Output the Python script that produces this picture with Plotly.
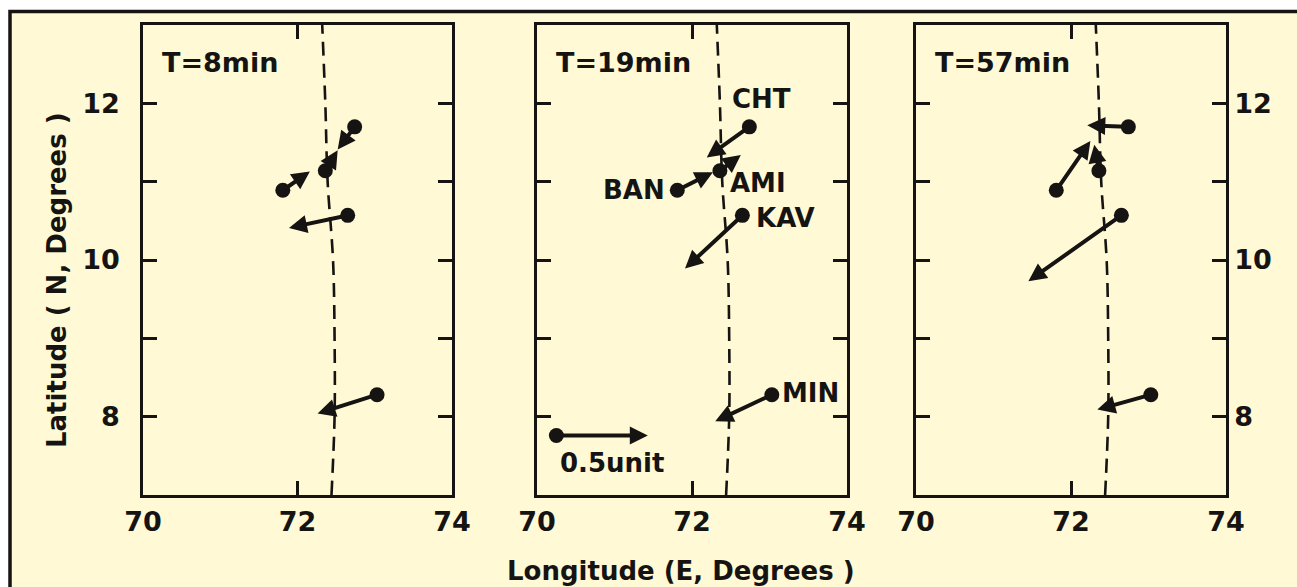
import plotly.graph_objects as go

# Station locations (longitude E, latitude N)
stations = ["CHT", "AMI", "BAN", "KAV", "MIN"]
station_lon = [72.74, 72.36, 71.81, 72.65, 73.03]
station_lat = [11.70, 11.14, 10.89, 10.57, 8.28]

# Arrow heads (end points of the induction vectors) for each time step
panel_titles = ["T=8min", "T=19min", "T=57min"]
tip_lon = [
    [72.52, 72.52, 72.16, 71.89, 72.26],
    [72.19, 72.63, 72.27, 71.91, 72.30],
    [72.21, 72.30, 72.25, 71.45, 72.34],
]
tip_lat = [
    [11.41, 11.40, 11.13, 10.41, 8.04],
    [11.31, 11.34, 11.12, 9.89, 7.94],
    [11.72, 11.47, 11.52, 9.73, 8.09],
]

# Dip equator trace
equator_lat = [7.0, 8.0, 9.0, 10.0, 11.0, 12.0, 13.0]
equator_lon = [72.44, 72.48, 72.48, 72.46, 72.39, 72.36, 72.32]

# Reference vector
scale_lon = [70.25, 71.43]
scale_lat = [7.76, 7.76]
scale_label = "0.5unit"

x_ticks = [70, 72, 74]
y_ticks = [8, 9, 10, 11, 12]
y_ticktext = ["8", "", "10", "", "12"]

W, H = 1297, 587
INK = "#161412"
CREAM = "#FFFAD5"
FONT = "DejaVu Sans"

panel_px = [(143, 452), (537, 847), (916, 1226)]
top_px, bot_px = 25, 495

fig = go.Figure()

annotations = []
for i in range(3):
    n = "" if i == 0 else str(i + 1)
    xr, yr = "x" + n, "y" + n

    fig.add_trace(go.Scatter(
        x=equator_lon, y=equator_lat, xaxis=xr, yaxis=yr, mode="lines",
        line=dict(color=INK, width=2.6, dash="14px,8px", shape="spline"),
        hoverinfo="skip", showlegend=False,
    ))

    for s in range(len(stations)):
        if tip_lon[i][s] == station_lon[s] and tip_lat[i][s] == station_lat[s]:
            continue
        annotations.append(dict(
            x=tip_lon[i][s], y=tip_lat[i][s], ax=station_lon[s], ay=station_lat[s],
            xref=xr, yref=yr, axref=xr, ayref=yr, text="", showarrow=True,
            arrowhead=2, arrowsize=0.9, arrowwidth=4, arrowcolor=INK,
        ))

    fig.add_trace(go.Scatter(
        x=station_lon, y=station_lat, xaxis=xr, yaxis=yr, mode="markers",
        marker=dict(color=INK, size=15), hoverinfo="skip", showlegend=False,
    ))

    annotations.append(dict(
        x=0.055, y=0.921, xref=xr + " domain", yref=yr + " domain",
        text=panel_titles[i], showarrow=False, xanchor="left", yanchor="middle",
        font=dict(family=FONT, size=27, color=INK, weight="bold"),
    ))

    x0, x1 = panel_px[i]
    fig.layout["xaxis" + n] = dict(
        domain=[x0 / W, x1 / W], range=[70, 74], anchor=yr,
        tickvals=x_ticks, ticks="inside", ticklen=14, tickwidth=2.5, tickcolor=INK,
        showline=True, linewidth=2.5, linecolor=INK, mirror="ticks",
        showgrid=False, zeroline=False, ticklabelstandoff=1,
        tickfont=dict(family=FONT, size=27, color=INK, weight="bold"),
    )
    fig.layout["yaxis" + n] = dict(
        domain=[1 - bot_px / H, 1 - top_px / H], range=[7, 13], anchor=xr,
        tickvals=y_ticks, ticktext=y_ticktext, ticks="inside", ticklen=14,
        tickwidth=2.5, tickcolor=INK, showline=True, linewidth=2.5, linecolor=INK,
        mirror="ticks", showgrid=False, zeroline=False,
        showticklabels=(i != 1), side="right" if i == 2 else "left",
        ticklabelstandoff=0 if i == 2 else 15,
        tickfont=dict(family=FONT, size=27, color=INK, weight="bold"),
    )

# Reference vector in the middle panel
fig.add_trace(go.Scatter(
    x=[scale_lon[0]], y=[scale_lat[0]], xaxis="x2", yaxis="y2", mode="markers",
    marker=dict(color=INK, size=15), hoverinfo="skip", showlegend=False,
))
annotations.append(dict(
    x=scale_lon[1], y=scale_lat[1], ax=scale_lon[0], ay=scale_lat[0],
    xref="x2", yref="y2", axref="x2", ayref="y2", text="", showarrow=True,
    arrowhead=2, arrowsize=0.9, arrowwidth=4, arrowcolor=INK,
))
annotations.append(dict(
    x=scale_lon[0], y=scale_lat[0], xref="x2", yref="y2", text=scale_label,
    showarrow=False, xanchor="left", yanchor="middle", xshift=2, yshift=-28,
    font=dict(family=FONT, size=26, color=INK, weight="bold"),
))

# Station names in the middle panel
label_offsets = {
    "CHT": (12, 28, "center"),
    "AMI": (8, -12, "left"),
    "BAN": (-10, 0, "right"),
    "KAV": (12, -3, "left"),
    "MIN": (8, 2, "left"),
}
for s, name in enumerate(stations):
    dx, dy, anchor = label_offsets[name]
    annotations.append(dict(
        x=station_lon[s], y=station_lat[s], xref="x2", yref="y2", text=name,
        showarrow=False, xanchor=anchor, yanchor="middle", xshift=dx, yshift=dy,
        font=dict(family=FONT, size=26, color=INK, weight="bold"),
    ))

# Shared axis titles
annotations.append(dict(
    x=681 / W, y=1 - 571 / H, xref="paper", yref="paper",
    xanchor="center", yanchor="middle",
    text="Longitude (E, Degrees )", showarrow=False,
    font=dict(family=FONT, size=26, color=INK, weight="bold"),
))
annotations.append(dict(
    x=57 / W, y=1 - 280 / H, xref="paper", yref="paper",
    xanchor="center", yanchor="middle",
    text="Latitude ( N, Degrees )", showarrow=False, textangle=-90,
    font=dict(family=FONT, size=26, color=INK, weight="bold"),
))

fig.update_layout(
    width=W, height=H, margin=dict(l=0, r=0, t=0, b=0, autoexpand=False),
    paper_bgcolor="white", plot_bgcolor="rgba(0,0,0,0)",
    annotations=annotations,
    shapes=[dict(
        type="rect", xref="paper", yref="paper", layer="below",
        x0=10 / W, x1=1.05, y0=-0.05, y1=1 - 11.5 / H,
        fillcolor=CREAM, line=dict(color=INK, width=3.5),
    )],
)

fig.write_html("out.html")
